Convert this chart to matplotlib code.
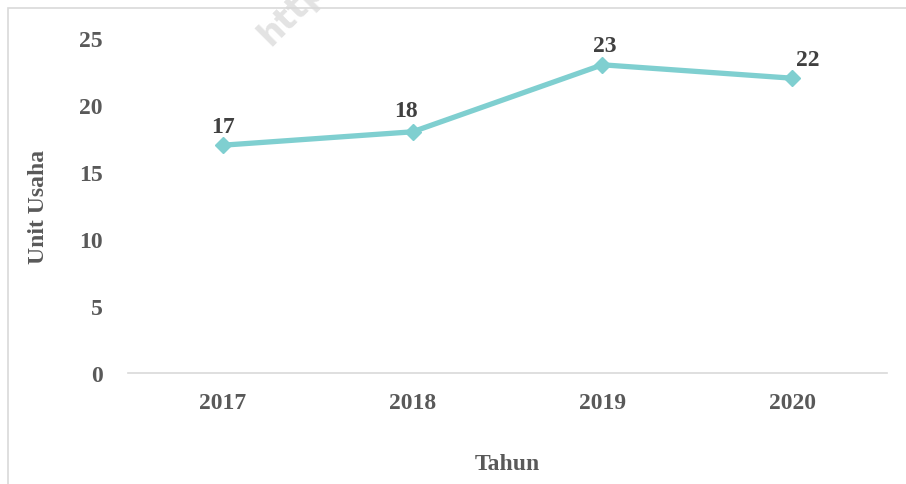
import matplotlib
matplotlib.use("Agg")
from matplotlib import pyplot as plt
from matplotlib.patches import Rectangle

years = ["2017", "2018", "2019", "2020"]
units = [17, 18, 23, 22]

line_colour = "#7fcfd0"
tick_colour = "#595959"
label_colour = "#404040"
font = ["Liberation Serif", "DejaVu Serif"]

fig = plt.figure(figsize=(9.06, 4.85), dpi=100)
ax = fig.add_axes([128 / 906, 1 - 374 / 485, 759 / 906, 335 / 485])

x = list(range(len(years)))
ax.plot(x, units, color=line_colour, linewidth=3.8, marker="D", markersize=8,
        solid_joinstyle="round")

# label offsets in points (dx, dy), mimicking excel auto placement
offsets = [(0, 6), (-5, 8), (2, 6), (11, 6)]
for xi, v, (dx, dy) in zip(x, units, offsets):
    ax.annotate(str(v), (xi, v), xytext=(dx, dy), textcoords="offset points",
                ha="center", va="bottom", fontsize=17, fontweight="bold",
                color=label_colour, family=font)

ax.set_xlim(-0.5, len(years) - 0.5)
ax.set_ylim(0, 25)
ax.set_yticks([0, 5, 10, 15, 20, 25])
ax.set_xticks(x)
ax.set_xticklabels(years)

for s in ["top", "right", "left"]:
    ax.spines[s].set_visible(False)
ax.spines["bottom"].set_color("#d9d9d9")
ax.spines["bottom"].set_linewidth(1.2)
ax.tick_params(length=0, labelsize=17, colors=tick_colour)
ax.tick_params(axis="x", pad=14)
ax.tick_params(axis="y", pad=18)
for lab in ax.get_xticklabels() + ax.get_yticklabels():
    lab.set_fontweight("bold")
    lab.set_family(font)

fig.text(507 / 906, 1 - 465 / 485, "Tahun", ha="center", va="center",
         fontsize=17, fontweight="bold", color=tick_colour, family=font)
fig.text(39 / 906, 1 - 207 / 485, "Unit Usaha", ha="center", va="center",
         rotation=90, fontsize=17, fontweight="bold", color=tick_colour, family=font)

# faint watermark remnant
fig.text(292 / 906, 1 - 12 / 485, "http", ha="center", va="center", rotation=45,
         fontsize=24, fontweight="bold", color="#e3e3e3", family=["DejaVu Sans"],
         zorder=0)

# chart border (runs off the right and bottom edges)
fig.patches.append(Rectangle((8 / 906, -0.1), 1.2, 1.1 - 9 / 485, transform=fig.transFigure,
                             fill=False, edgecolor="#d9d9d9", linewidth=1.2))

fig.savefig("out.png", dpi=100)
